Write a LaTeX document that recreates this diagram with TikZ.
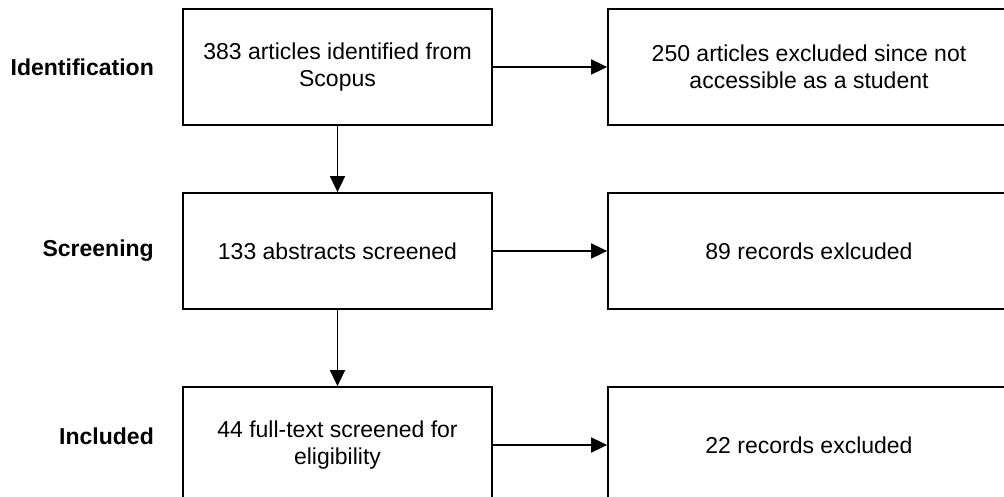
\documentclass[tikz,border=0pt]{standalone}
\usepackage{fontspec}
\setmainfont{Liberation Sans}
\usetikzlibrary{arrows.meta}
\begin{document}
\begin{tikzpicture}[x=1pt,y=-1pt,
  boxfont/.style={font=\fontsize{23}{27}\selectfont},
  stagebox/.style={draw=black,line width=1.8pt,minimum height=116pt,align=center,
    boxfont,inner sep=0pt},
  leftbox/.style={stagebox,minimum width=309pt},
  rightbox/.style={stagebox,minimum width=402pt},
  stagelabel/.style={anchor=east,font=\fontsize{23}{27}\selectfont\bfseries,inner sep=0pt},
  flow/.style={line width=1.8pt,-{Triangle[length=16pt,width=15pt]}}]
\useasboundingbox (0,0) rectangle (1004,497);
\begin{scope}
\clip (0,0) rectangle (1004,497);
% left column: the stages
\node[leftbox] (ident) at (337.5,67) {383 articles identified from\\Scopus};
\node[leftbox] (screen) at (337.5,251) {133 abstracts screened};
\node[leftbox] (incl) at (337.5,445) {44 full-text screened for\\eligibility};
% right column: the exclusions
\node[rightbox] (excl1) at (809,67) {250 articles excluded since not\\accessible as a student};
\node[rightbox] (excl2) at (809,251) {89 records exlcuded};
\node[rightbox] (excl3) at (809,445) {22 records excluded};
\end{scope}
% stage labels
\node[stagelabel] (l1) at (154,67) {Identification};
\node[stagelabel] (l2) at (154,251) {Screening};
\node[stagelabel] (l3) at (154,436) {Included};
% connectors
\draw[flow] (ident) -- (screen);
\draw[flow] (screen) -- (incl);
\draw[flow] (ident.east) -- (excl1.west);
\draw[flow] (screen.east) -- (excl2.west);
\draw[flow] (incl.east) -- (excl3.west);
\end{tikzpicture}
\end{document}
